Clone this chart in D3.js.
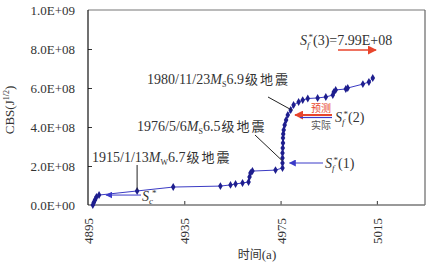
<!DOCTYPE html>
<html><head><meta charset="utf-8">
<script src="https://cdn.jsdelivr.net/npm/d3@7"></script>
<style>
html,body{margin:0;padding:0;background:#fff;}
svg{display:block;font-family:"Liberation Serif","Times New Roman",serif;}
.cjk{font-family:"Noto Sans CJK SC",sans-serif;}
</style></head>
<body>
<svg id="c" width="432" height="265"></svg>
<script>
// Data
const years = [4897.0,4897.4,4897.9,4898.5,4899.6,4915.4,4930.4,4950.0,4954.2,4956.3,4959.2,4961.7,4962.1,4962.5,4963.3,4972.9,4975.8,4975.8,4975.8,4975.8,4975.9,4976.0,4976.0,4976.1,4976.3,4976.7,4977.3,4978.0,4979.2,4980.4,4982.5,4984.2,4986.3,4990.4,4993.8,4996.7,4997.1,4997.9,5002.1,5002.9,5009.2,5011.7,5013.3];
const cbsE8 = [0,0.13,0.26,0.41,0.51,0.72,0.92,0.97,1.03,1.08,1.13,1.18,1.44,1.64,1.74,1.79,1.90,2.15,2.41,2.67,2.92,3.18,3.44,3.64,3.85,4.10,4.36,4.62,4.87,5.13,5.28,5.38,5.46,5.49,5.54,5.64,5.79,5.90,5.95,6.00,6.20,6.31,6.51];
const xTicks = [4895,4935,4975,5015];
const yTicks = [0,2e8,4e8,6e8,8e8,1e9];
const xDomain = [4895,5035];
const yDomain = [0,1e9];

const svg = d3.select("#c");
const L=88,R=425,T=10,B=205;
const x = d3.scaleLinear().domain(xDomain).range([L,R]);
const y = d3.scaleLinear().domain(yDomain).range([B,T]);

function fmt(v){
  if(v===0) return "0.0E+00";
  const e=Math.floor(Math.log10(v)+1e-9);
  const m=v/Math.pow(10,e);
  return m.toFixed(1)+"E+"+String(e).padStart(2,"0");
}

// axes
const ya = svg.append("g").attr("transform",`translate(${L},0)`)
  .call(d3.axisLeft(y).tickValues(yTicks).tickSize(-4).tickPadding(13).tickFormat(fmt));
ya.select(".domain").remove();
ya.selectAll("line").attr("stroke","#333");
ya.selectAll("text").attr("font-size",13).attr("fill","#333").attr("font-family","Liberation Serif");
ya.selectAll(".tick").filter(d=>d===1e9||d===0).select("line").remove();

const xa = svg.append("g").attr("transform",`translate(0,${B})`)
  .call(d3.axisBottom(x).tickValues(xTicks).tickSize(-4).tickFormat(d3.format("d")));
xa.select(".domain").remove();
xa.selectAll("line").attr("stroke","#333");
xa.selectAll(".tick").filter(d=>d===4895).select("line").remove();
xa.selectAll("text").attr("font-size",13).attr("fill","#333").attr("font-family","Liberation Serif")
  .attr("text-anchor","end").attr("dy","0.35em").attr("y",0)
  .attr("transform","translate(0,13) rotate(-90)");

// frame
svg.append("line").attr("x1",L).attr("x2",R).attr("y1",T).attr("y2",T).attr("stroke","#777").attr("stroke-width",1.2);
svg.append("line").attr("x1",R).attr("x2",R).attr("y1",T).attr("y2",B).attr("stroke","#666").attr("stroke-width",1.2);
svg.append("line").attr("x1",L).attr("x2",R).attr("y1",B).attr("y2",B).attr("stroke","#777").attr("stroke-width",1.5);
svg.append("line").attr("x1",L).attr("x2",L).attr("y1",T).attr("y2",B).attr("stroke","#111").attr("stroke-width",1.2);

// axis labels
const yl = svg.append("text").attr("transform","translate(14,110) rotate(-90)").attr("text-anchor","middle")
  .attr("font-size",13).attr("fill","#333");
yl.append("tspan").text("CBS(J");
yl.append("tspan").attr("font-size",8).attr("dy",-5).text("1/2");
yl.append("tspan").attr("dy",5).text(")");

const xl = svg.append("text").attr("x",257).attr("y",259).attr("text-anchor","middle").attr("font-size",13).attr("fill","#333");
xl.append("tspan").attr("class","cjk").attr("font-size",12).text("时间");
xl.append("tspan").text("(a)");

// markers defs
const defs = svg.append("defs");
function arrowMarker(id,color,w,h){
  defs.append("marker").attr("id",id).attr("viewBox","0 0 10 10").attr("refX",9).attr("refY",5)
    .attr("markerWidth",w).attr("markerHeight",h).attr("orient","auto").attr("markerUnits","userSpaceOnUse")
    .append("path").attr("d","M10,5 L0,0 L0,10 Z").attr("fill",color);
}
arrowMarker("ab","#3a3ac8",7,7);
arrowMarker("ar","#e8452c",9,9);

// data line
const pts = years.map((yr,i)=>[yr,cbsE8[i]*1e8]);
svg.append("path").datum(pts).attr("fill","none").attr("stroke","#3b3bc4").attr("stroke-width",1)
  .attr("d",d3.line().x(d=>x(d[0])).y(d=>y(d[1])));
svg.append("g").selectAll("path").data(pts).join("path")
  .attr("transform",d=>`translate(${x(d[0])},${y(d[1])})`)
  .attr("d",d3.symbol(d3.symbolDiamond,18)).attr("fill","#1e1e8e");

// annotations
const annColor="#333";
function quake(xs,yb,date,sub,mag){
  const t=svg.append("text").attr("x",xs).attr("y",yb).attr("font-size",14).attr("fill",annColor);
  t.append("tspan").text(date);
  t.append("tspan").attr("font-style","italic").text("M");
  t.append("tspan").attr("font-size",8).attr("dy",3).text(sub);
  t.append("tspan").attr("dy",-3).text(mag);
  t.append("tspan").attr("class","cjk").attr("font-size",13).attr("letter-spacing",2).attr("dx",1).text("级地震");
}
quake(92,162,"1915/1/13","W","6.7");
quake(137,131,"1976/5/6","S","6.5");
quake(147,84,"1980/11/23","S","6.9");

// pointer lines
const p1915 = [x(years[5]),y(cbsE8[5]*1e8)];
svg.append("line").attr("x1",p1915[0]).attr("x2",p1915[0]).attr("y1",165).attr("y2",p1915[1]-1).attr("stroke","#222").attr("stroke-width",1);
svg.append("line").attr("x1",255).attr("y1",135).attr("x2",x(4975.8)).attr("y2",y(1.9e8)-7).attr("stroke","#222").attr("stroke-width",1);
svg.append("line").attr("x1",268).attr("y1",97).attr("x2",x(4979.2)+1).attr("y2",y(4.87e8)).attr("stroke","#222").attr("stroke-width",1);

function sLabel(xs,yb,sub,rest){
  const t=svg.append("text").attr("x",xs).attr("y",yb).attr("font-size",14).attr("fill",annColor);
  t.append("tspan").attr("font-style","italic").text("S");
  t.append("tspan").attr("font-style","italic").attr("font-size",9).attr("dy",3).text(sub);
  t.append("tspan").attr("font-size",9).attr("dy",-8).attr("dx",-1).text("*");
  t.append("tspan").attr("dy",5).text(rest);
  return t;
}
// Sc*
svg.append("line").attr("x1",141).attr("x2",x(4899.6)+7).attr("y1",y(0.51e8)).attr("y2",y(0.51e8))
  .attr("stroke","#3a3ac8").attr("stroke-width",1).attr("marker-end","url(#ab)");
sLabel(142,201,"c","");
// Sf*(1)
svg.append("line").attr("x1",323).attr("x2",x(4975.8)+7).attr("y1",163).attr("y2",163)
  .attr("stroke","#3a3ac8").attr("stroke-width",1).attr("marker-end","url(#ab)");
sLabel(325,168,"f","(1)");
// Sf*(2)
svg.append("line").attr("x1",332).attr("x2",x(4977.3)+9).attr("y1",115).attr("y2",115)
  .attr("stroke","#e8452c").attr("stroke-width",2).attr("marker-end","url(#ar)");
svg.append("line").attr("x1",332).attr("x2",x(4977.3)+14).attr("y1",117.5).attr("y2",117.5)
  .attr("stroke","#3a3ac8").attr("stroke-width",1.2);
sLabel(335,122,"f","(2)");
svg.append("text").attr("class","cjk").attr("x",321).attr("y",112).attr("text-anchor","middle").attr("font-size",10).attr("fill","#e8452c").text("预测");
svg.append("text").attr("class","cjk").attr("x",321).attr("y",129).attr("text-anchor","middle").attr("font-size",10).attr("fill","#555").text("实际");
// Sf*(3)
sLabel(300,45,"f","(3)=7.99E+08");
svg.append("line").attr("x1",338).attr("x2",376).attr("y1",50).attr("y2",50)
  .attr("stroke","#e8452c").attr("stroke-width",1.5).attr("marker-end","url(#ar)");
</script>
</body></html>
